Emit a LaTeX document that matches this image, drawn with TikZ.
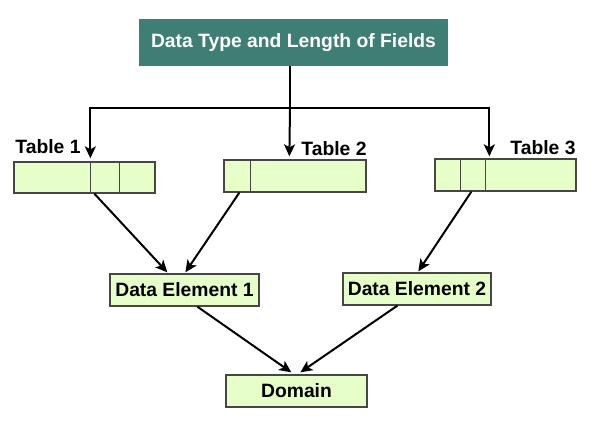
\documentclass[tikz,border=0pt]{standalone}
\usepackage{fontspec}
\setmainfont{Liberation Sans}
\usetikzlibrary{arrows.meta, calc}

\definecolor{headteal}{RGB}{62,126,116}
\definecolor{cellgreen}{RGB}{230,254,200}
\definecolor{edgegrey}{RGB}{70,70,70}

\tikzset{
  headbox/.style={fill=headteal, text=white, inner sep=0pt, font=\bfseries\fontsize{19.3}{21}\selectfont},
  cellbox/.style={draw=edgegrey, line width=1.3pt, fill=cellgreen, inner sep=0pt, font=\bfseries\fontsize{19.3}{21}\selectfont},
  tlabel/.style={font=\bfseries\fontsize{19.3}{21}\selectfont, inner sep=0pt},
  divider/.style={draw=edgegrey, line width=1.3pt},
  arr/.style={-{Stealth[length=12pt,width=11pt,inset=3pt]}, line width=2pt}
}

\begin{document}
\begin{tikzpicture}[x=1pt,y=-1pt]
      \useasboundingbox (0,0) rectangle (600,430);

      \node[headbox, minimum width=309pt, minimum height=47pt] (head) at (293.5,42.5) {Data Type and Length of Fields};

      % tables
      \node[cellbox, minimum width=141pt, minimum height=31pt] (t1) at (84.5,177.5) {};
      \node[cellbox, minimum width=142pt, minimum height=32pt] (t2) at (295,176) {};
      \node[cellbox, minimum width=141pt, minimum height=32pt] (t3) at (505.5,175) {};

      \draw[divider] ($(t1.north west)+(77,0)$) -- ($(t1.south west)+(77,0)$);
      \draw[divider] ($(t1.north west)+(106,0)$) -- ($(t1.south west)+(106,0)$);
      \draw[divider] ($(t2.north west)+(27,0)$) -- ($(t2.south west)+(27,0)$);
      \draw[divider] ($(t3.north west)+(26,0)$) -- ($(t3.south west)+(26,0)$);
      \draw[divider] ($(t3.north west)+(51,0)$) -- ($(t3.south west)+(51,0)$);

      \node[tlabel] (l1) at (48,147) {Table 1};
      \node[tlabel] (l2) at (334,149) {Table 2};
      \node[tlabel] (l3) at (543,148) {Table 3};

      % data elements
      \node[cellbox, minimum width=149pt, minimum height=32pt] (de1) at (184.5,290) {Data Element 1};
      \node[cellbox, minimum width=148pt, minimum height=32pt] (de2) at (417,289) {Data Element 2};
      \node[cellbox, minimum width=141pt, minimum height=32pt] (dom) at (296.5,391) {Domain};

      % connectors
      \coordinate (split) at (290,108);
      \draw[line width=2pt] (head.south -| split) -- (split);
      \draw[arr] (split) -| ($(t1.north west)+(77,-3)$);
      \draw[arr] (split) -- ($(t2.north west)+(66,-3)$);
      \draw[arr] (split) -| ($(t3.north west)+(55,-2)$);

      \draw[arr] ($(t1.south west)+(81,0)$) -- ($(de1.north west)+(58,-1)$);
      \draw[arr] ($(t2.south west)+(16,0)$) -- ($(de1.north west)+(76,-1)$);
      \draw[arr] ($(t3.south west)+(37,0)$) -- ($(de2.north west)+(76,-1)$);
      \draw[arr] ($(de1.south west)+(88,0)$) -- ($(dom.north west)+(66,-2)$);
      \draw[arr] ($(de2.south west)+(55,0)$) -- ($(dom.north west)+(75,-2)$);
    \end{tikzpicture}
\end{document}
